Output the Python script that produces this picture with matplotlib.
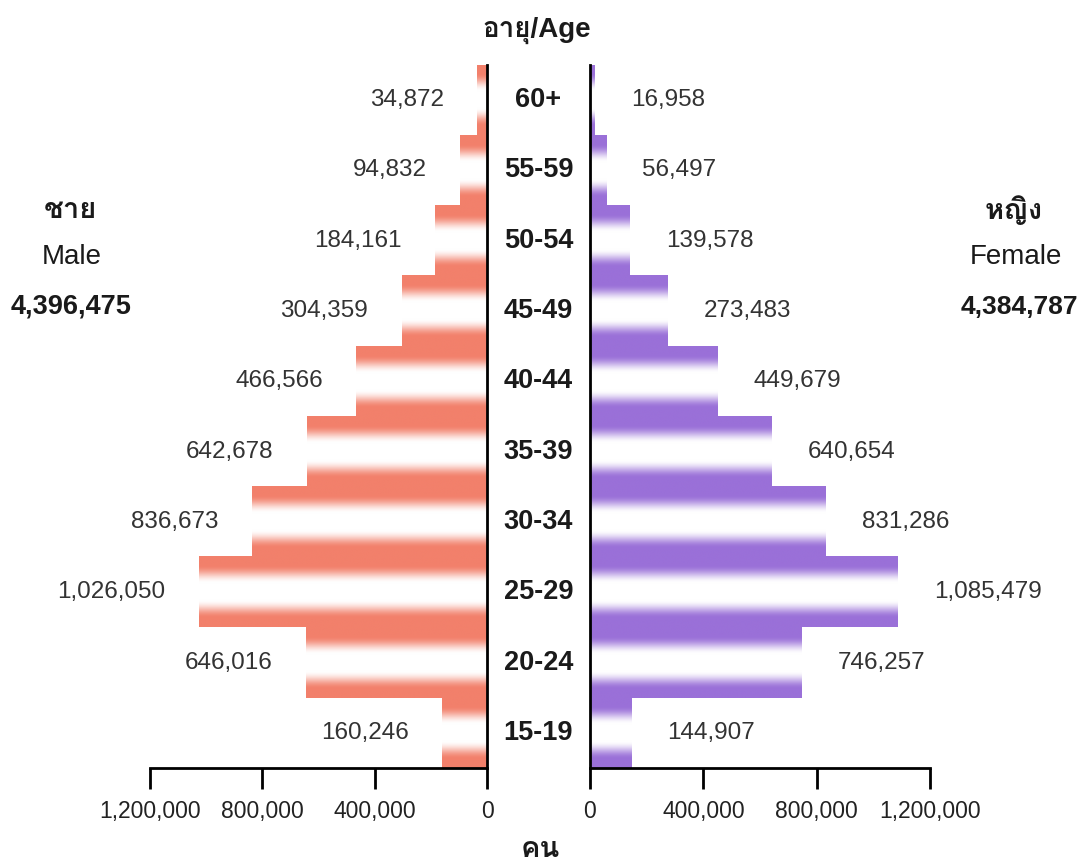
import numpy as np
import matplotlib
matplotlib.use("Agg")
import matplotlib.pyplot as plt
from matplotlib import font_manager as fm
from matplotlib.ft2font import FT2Font
from matplotlib.colors import to_rgb
from matplotlib.ticker import FuncFormatter

# ---------------- data ----------------
age_groups = ["15-19", "20-24", "25-29", "30-34", "35-39",
              "40-44", "45-49", "50-54", "55-59", "60+"]
male = [160246, 646016, 1026050, 836673, 642678,
        466566, 304359, 184161, 94832, 34872]
female = [144907, 746257, 1085479, 831286, 640654,
          449679, 273483, 139578, 56497, 16958]
male_total = 4396475
female_total = 4384787
x_ticks = [0, 400000, 800000, 1200000]
male_color = "#F2806B"
female_color = "#9A70D8"

# ---------------- fonts ----------------
def find_thai_family():
    for f in fm.fontManager.ttflist:
        try:
            cm = FT2Font(f.fname).get_charmap()
        except Exception:
            continue
        if ord("ช") in cm and ord("ญ") in cm:
            return f.name
    return None

thai = find_thai_family()
base = "Liberation Sans"
fam = [base] + ([thai] if thai else []) + ["DejaVu Sans"]
plt.rcParams["font.family"] = fam

W, H = 1081, 867
fig = plt.figure(figsize=(W / 100, H / 100), dpi=100)
fig.patch.set_facecolor("white")

def px_ax(x0, x1, y0, y1):
    return fig.add_axes([x0 / W, 1 - y1 / H, (x1 - x0) / W, (y1 - y0) / H])

axL = px_ax(150, 487, 65, 768)
axR = px_ax(590, 930, 65, 768)

# vertical gradient profile: colour at the bar edges, white in the middle
n = 300
t = np.linspace(0, 1, n)
d = np.abs(t - 0.5)
s = np.clip((d - 0.12) / (0.37 - 0.12), 0, 1)
s = s * s * (3 - 2 * s)

def grad_img(color):
    c = np.array(to_rgb(color))
    return np.ones((n, 1, 3)) * (1 - s)[:, None, None] + c[None, None, :] * s[:, None, None]

y = np.arange(len(age_groups))

for ax, vals, col in [(axL, male, male_color), (axR, female, female_color)]:
    img = grad_img(col)
    for yi, v in zip(y, vals):
        ax.imshow(img, extent=(0, v, yi - 0.5, yi + 0.5), aspect="auto",
                  interpolation="bilinear", origin="upper", zorder=1)
    ax.set_ylim(-0.5, len(age_groups) - 0.5)
    ax.set_xticks(x_ticks)
    ax.xaxis.set_major_formatter(FuncFormatter(lambda v, p: f"{int(v):,}"))
    ax.tick_params(axis="x", direction="out", length=15, width=2,
                   labelsize=16.5, pad=8, colors="black", labelcolor="#222222")
    ax.tick_params(axis="y", left=False, right=False, labelleft=False, labelright=False)
    ax.spines["top"].set_visible(False)
    ax.spines["bottom"].set_linewidth(2)
    ax.set_facecolor("none")

axL.set_xlim(1200000, 0)
axL.spines["left"].set_visible(False)
axL.spines["right"].set_linewidth(2)
axR.set_xlim(0, 1200000)
axR.spines["right"].set_visible(False)
axR.spines["left"].set_linewidth(2)

# value labels
for yi, v in zip(y, male):
    axL.annotate(f"{v:,}", xy=(v, yi), xytext=(-24, 0), textcoords="offset points",
                 ha="right", va="center", fontsize=17.5, color="#333333")
for yi, v in zip(y, female):
    axR.annotate(f"{v:,}", xy=(v, yi), xytext=(26, 0), textcoords="offset points",
                 ha="left", va="center", fontsize=17.5, color="#333333")

# age labels in centre
for yi, a in zip(y, age_groups):
    axL.annotate(a, xy=(0, yi), xycoords="data", xytext=(37, 0), textcoords="offset points",
                 ha="center", va="center", fontsize=19.5, fontweight="bold", color="#1a1a1a",
                 annotation_clip=False)

fig.text(537 / W, 1 - 30 / H, "อายุ/Age", ha="center", va="center",
         fontsize=20, fontweight="bold", color="#1a1a1a")
fig.text(540 / W, 1 - 849 / H, "คน", ha="center", va="center",
         fontsize=21, fontweight="bold", color="#1a1a1a")

fig.text(70 / W, 1 - 210 / H, "ชาย", ha="center", va="center",
         fontsize=21, fontweight="bold", color="#1a1a1a")
fig.text(72 / W, 1 - 257 / H, "Male", ha="center", va="center",
         fontsize=20, color="#1a1a1a")
fig.text(71 / W, 1 - 307 / H, f"{male_total:,}", ha="center", va="center",
         fontsize=19.5, fontweight="bold", color="#1a1a1a")

fig.text(1014 / W, 1 - 210 / H, "หญิง", ha="center", va="center",
         fontsize=21, fontweight="bold", color="#1a1a1a")
fig.text(1016 / W, 1 - 257 / H, "Female", ha="center", va="center",
         fontsize=20, color="#1a1a1a")
fig.text(1019 / W, 1 - 307 / H, f"{female_total:,}", ha="center", va="center",
         fontsize=19, fontweight="bold", color="#1a1a1a")

fig.savefig("out.png", dpi=100, facecolor="white")
